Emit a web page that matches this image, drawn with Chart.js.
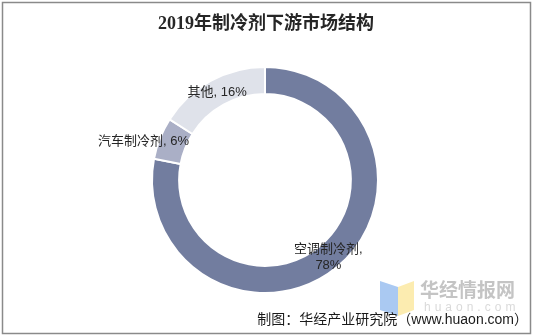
<!DOCTYPE html>
<html>
<head>
<meta charset="utf-8">
<script src="https://cdn.jsdelivr.net/npm/chart.js@4"></script>
<style>
  html, body { margin: 0; padding: 0; background: #fff; }
  #wrap { position: relative; width: 533px; height: 336px; }
</style>
</head>
<body>
<div id="wrap"><canvas id="chart"></canvas></div>
<script>
// Downstream market structure of refrigerants, 2019
const categories = ['空调制冷剂', '汽车制冷剂', '其他'];
const shares = [78, 6, 16];
const sliceColors = ['#727d9f', '#aaafc6', '#dfe2ea'];

// label placement around each slice centroid (dx, dy), and whether to break the line
const labelShift = [[0, 1], [-29, -2], [0, 0]];
const labelBreak = [true, false, false];

const cjk = '"Liberation Sans", "Noto Sans CJK SC", sans-serif';
const titleFont = '"Liberation Serif", "Noto Sans CJK SC", serif';

// Frame, title, footer and watermark
const decorations = {
  id: 'decorations',
  beforeDraw(chart) {
    const ctx = chart.ctx;
    ctx.save();
    ctx.fillStyle = '#fff';
    ctx.fillRect(0, 0, chart.width, chart.height);

    // watermark logo
    ctx.fillStyle = '#aac9f2';
    ctx.beginPath();
    ctx.moveTo(380, 281); ctx.lineTo(398, 287); ctx.lineTo(398, 316); ctx.lineTo(380, 310);
    ctx.closePath(); ctx.fill();
    ctx.fillStyle = '#fcecb0';
    ctx.beginPath();
    ctx.moveTo(398, 287); ctx.lineTo(414, 281); ctx.lineTo(414, 310); ctx.lineTo(398, 316);
    ctx.closePath(); ctx.fill();
    ctx.fillStyle = '#c4c4c4';
    ctx.font = 'bold 19px "Noto Sans CJK SC", sans-serif';
    ctx.textAlign = 'left';
    ctx.textBaseline = 'middle';
    ctx.fillText('华经情报网', 420, 290);
    ctx.fillStyle = '#dadada';
    ctx.font = '12px "Liberation Sans", sans-serif';
    ctx.letterSpacing = '4px';
    ctx.fillText('huaon.com', 424, 308);
    ctx.letterSpacing = '0px';
    ctx.restore();
  },
  afterDraw(chart) {
    const ctx = chart.ctx;
    ctx.save();
    ctx.strokeStyle = '#8a8a8a';
    ctx.lineWidth = 1.5;
    ctx.strokeRect(2.5, 2.5, 528, 331);

    ctx.fillStyle = '#262626';
    ctx.font = 'bold 18px ' + titleFont;
    ctx.textAlign = 'center';
    ctx.textBaseline = 'middle';
    ctx.fillText('2019年制冷剂下游市场结构', 266, 24);

    ctx.fillStyle = '#1a1a1a';
    ctx.font = '14px ' + cjk;
    ctx.textAlign = 'right';
    ctx.fillText('制图：华经产业研究院（www.huaon.com）', 528, 320);

    // slice labels
    const meta = chart.getDatasetMeta(0);
    ctx.fillStyle = '#262626';
    ctx.font = '13px ' + cjk;
    ctx.textAlign = 'center';
    meta.data.forEach((arc, i) => {
      const p = arc.tooltipPosition();
      const x = p.x + labelShift[i][0];
      const y = p.y + labelShift[i][1];
      const pct = shares[i] + '%';
      if (labelBreak[i]) {
        ctx.fillText(categories[i] + ',', x, y - 8);
        ctx.fillText(pct, x, y + 8);
      } else {
        ctx.fillText(categories[i] + ', ' + pct, x, y);
      }
    });
    ctx.restore();
  }
};

new Chart(document.getElementById('chart'), {
  type: 'doughnut',
  data: {
    labels: categories,
    datasets: [{
      data: shares,
      backgroundColor: sliceColors,
      borderColor: '#ffffff',
      borderWidth: 2
    }]
  },
  options: {
    responsive: true,
    maintainAspectRatio: false,
    animation: false,
    cutout: '76%',
    layout: { padding: { top: 66, bottom: 42, left: 151, right: 154 } },
    plugins: {
      legend: { display: false },
      tooltip: { enabled: false }
    }
  },
  plugins: [decorations]
});
</script>
</body>
</html>
